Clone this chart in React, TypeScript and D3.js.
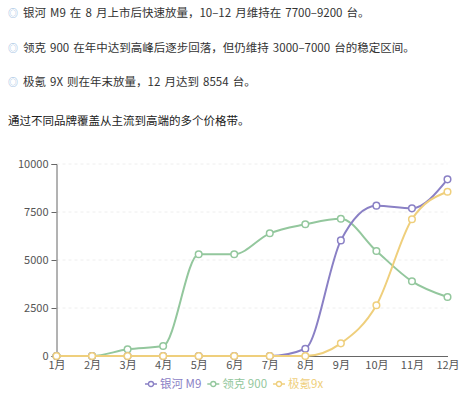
import React, {useEffect, useRef} from 'react';
import * as d3 from "d3";

const months = ["1月", "2月", "3月", "4月", "5月", "6月", "7月", "8月", "9月", "10月", "11月", "12月"];
const yinheM9 = [0, 0, 0, 0, 0, 0, 0, 380, 6020, 7830, 7690, 9200];
const lynk900 = [0, 0, 350, 520, 5300, 5300, 6390, 6860, 7150, 5470, 3890, 3070];
const zeekr9x = [0, 0, 0, 0, 0, 0, 0, 0, 660, 2640, 7120, 8554];
const yTicks = [0, 2500, 5000, 7500, 10000];

const seriesList = [
    {name: "银河 M9", values: yinheM9, color: "#8a80c5"},
    {name: "领克 900", values: lynk900, color: "#93c79d"},
    {name: "极氪9x", values: zeekr9x, color: "#efcf7c"}
];

const notes = [
    "银河 M9 在 8 月上市后快速放量，10–12 月维持在 7700–9200 台。",
    "领克 900 在年中达到高峰后逐步回落，但仍维持 3000–7000 台的稳定区间。",
    "极氪 9X 则在年末放量，12 月达到 8554 台。"
];
const summary = "通过不同品牌覆盖从主流到高端的多个价格带。";

const FONT = "'Noto Sans CJK SC', 'Noto Sans', sans-serif";

export default function App() {
    const ref = useRef<SVGSVGElement>(null);

    useEffect(() => {
        const svg = d3.select(ref.current);
        svg.selectAll("*").remove();

        //text block above the chart
        notes.forEach((t, i) => {
            const y = 17 + i * 34.5;
            svg.append("text")
                .attr("x", 8).attr("y", y)
                .attr("font-size", 10).attr("fill", "#8db3dc")
                .attr("font-family", FONT)
                .text("◎");
            svg.append("text")
                .attr("x", 23).attr("y", y)
                .attr("font-size", 11.5).attr("fill", "#333")
                .attr("font-family", FONT)
                .attr("word-spacing", 1.5)
                .text(t);
        });
        svg.append("text")
            .attr("x", 8).attr("y", 125)
            .attr("font-size", 11.5).attr("fill", "#222")
            .attr("font-family", FONT)
            .text(summary);

        const margin = {top: 164, left: 56.5, right: 25.5, bottom: 44};
        const width = 473 - margin.left - margin.right;
        const height = 400 - margin.top - margin.bottom;
        const g = svg.append("g").attr("transform", `translate(${margin.left},${margin.top})`);

        const x = d3.scalePoint().domain(months).range([0, width]);
        const y = d3.scaleLinear().domain([0, 10000]).range([height, 0]);

        //grid
        g.selectAll(".grid").data(yTicks.filter(d => d > 0)).enter()
            .append("line")
            .attr("x1", 0).attr("x2", width)
            .attr("y1", d => y(d)).attr("y2", d => y(d))
            .attr("stroke", "#eeeeee").attr("stroke-dasharray", "3,3");

        //y axis
        const yAxis = g.append("g")
            .call(d3.axisLeft(y).tickValues(yTicks).tickFormat(d3.format("d")).tickSize(5).tickPadding(3));
        yAxis.select(".domain").attr("stroke", "#666");
        yAxis.selectAll(".tick line").attr("stroke", "#666");
        yAxis.selectAll("text").attr("fill", "#555").attr("font-size", 11).attr("font-family", FONT);

        //x axis
        const xAxis = g.append("g")
            .attr("transform", `translate(0,${height})`)
            .call(d3.axisBottom(x).tickSize(0).tickPadding(5));
        xAxis.select(".domain").attr("stroke", "#666");
        xAxis.selectAll("text").attr("fill", "#555").attr("font-size", 11).attr("font-family", FONT);

        const line = d3.line<number>()
            .x((_, i) => x(months[i]) as number)
            .y(d => y(d))
            .curve(d3.curveMonotoneX);

        // draw order: green under, then purple, yellow on top
        [seriesList[1], seriesList[0], seriesList[2]].forEach(s => {
            g.append("path")
                .attr("d", line(s.values))
                .attr("fill", "none")
                .attr("stroke", s.color)
                .attr("stroke-width", 2);
            g.selectAll(null).data(s.values).enter()
                .append("circle")
                .attr("cx", (_, i) => x(months[i]) as number)
                .attr("cy", d => y(d))
                .attr("r", 3.3)
                .attr("fill", "#fff")
                .attr("stroke", s.color)
                .attr("stroke-width", 1.5);
        });

        //legend
        const legend = svg.append("g").attr("transform", "translate(145,384)");
        let lx = 0;
        seriesList.forEach(s => {
            const item = legend.append("g").attr("transform", `translate(${lx},0)`);
            item.append("line")
                .attr("x1", 0).attr("x2", 12).attr("y1", 0).attr("y2", 0)
                .attr("stroke", s.color).attr("stroke-width", 1.5);
            item.append("circle")
                .attr("cx", 6).attr("cy", 0).attr("r", 2.5)
                .attr("fill", "#fff").attr("stroke", s.color).attr("stroke-width", 1.3);
            const txt = item.append("text")
                .attr("x", 15).attr("y", 4)
                .attr("font-size", 11.5).attr("fill", s.color)
                .attr("font-family", FONT)
                .text(s.name);
            const w = (txt.node() as SVGTextElement).getComputedTextLength();
            lx += 15 + w + 6;
        });
    }, []);

    return (
        <svg ref={ref} width={473} height={400}
             style={{position: "fixed", left: 0, top: 0, background: "#fff"}}/>
    );
}
